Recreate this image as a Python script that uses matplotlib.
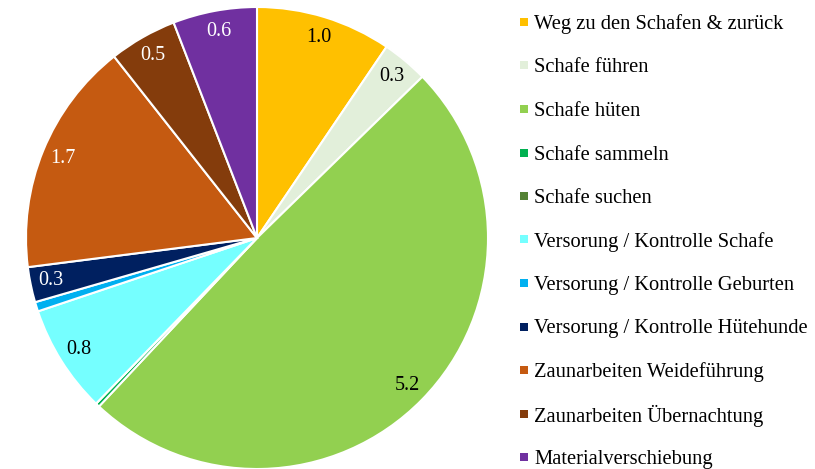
import matplotlib
matplotlib.use("Agg")
import matplotlib.pyplot as plt
from matplotlib.patches import Rectangle
import numpy as np

categories = [
    "Weg zu den Schafen & zurück",
    "Schafe führen",
    "Schafe hüten",
    "Schafe sammeln",
    "Schafe suchen",
    "Versorung / Kontrolle Schafe",
    "Versorung / Kontrolle Geburten",
    "Versorung / Kontrolle Hütehunde",
    "Zaunarbeiten Weideführung",
    "Zaunarbeiten Übernachtung",
    "Materialverschiebung",
]
values = [1.0, 0.34, 5.2, 0.03, 0.0, 0.8, 0.07, 0.26, 1.73, 0.5, 0.62]
colors = ["#FFC000", "#E2EFDA", "#92D050", "#00B050", "#548235", "#75FFFF",
          "#00B0F0", "#002060", "#C55A11", "#843C0C", "#7030A0"]
label_colors = ["black", "black", "black", "black", "black", "black",
                "black", "white", "white", "white", "white"]

plt.rcParams['font.family'] = ['Liberation Serif', 'DejaVu Serif']

W, H = 815, 469
fig = plt.figure(figsize=(W / 100, H / 100), dpi=100)
r = 231
cx, cy = 257, 469 - 238
ax = fig.add_axes([(cx - r) / W, (cy - r) / H, 2 * r / W, 2 * r / H])
wedges, _ = ax.pie(values, colors=colors, startangle=90, counterclock=False,
                   wedgeprops=dict(edgecolor="white", linewidth=1.5),
                   radius=1)
total = sum(values)
cum = 0.0
for v, c in zip(values, label_colors):
    if v >= 0.2:
        mid = 90 - (cum + v / 2) / total * 360
        th = np.deg2rad(mid)
        ax.text(0.91 * np.cos(th), 0.91 * np.sin(th), f"{v:.1f}",
                ha="center", va="center", color=c, fontsize=14.5)
    cum += v
ax.set_xlim(-1, 1)
ax.set_ylim(-1, 1)
ax.set_aspect("equal")
ax.axis("off")

# legend
y0 = 22
dy = 43.5
for i, (lab, col) in enumerate(zip(categories, colors)):
    y = H - (y0 + i * dy)
    fig.add_artist(Rectangle((520 / W, (y - 4) / H), 8 / W, 8 / H,
                             transform=fig.transFigure, facecolor=col, edgecolor="none"))
    fig.text(534 / W, y / H, lab, ha="left", va="center_baseline", fontsize=14.8)

fig.savefig("out.png", dpi=100)
